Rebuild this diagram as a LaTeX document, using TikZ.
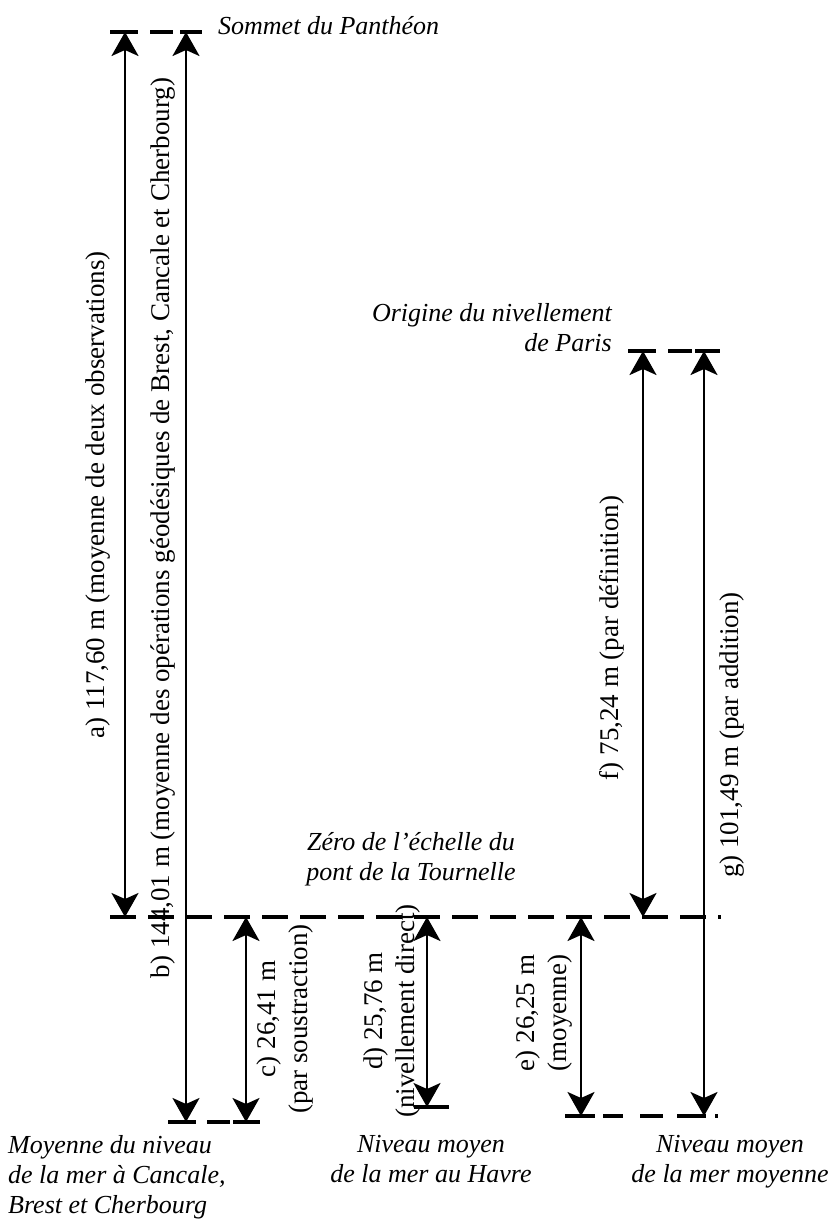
\documentclass[tikz,border=0pt]{standalone}
\usepackage{fontspec}
\setmainfont{Liberation Serif}
\usetikzlibrary{arrows.meta}
\begin{document}
\begin{tikzpicture}[x=1pt,y=-1pt,
  tipA/.tip={Stealth[length=24pt,width=27pt,inset=6pt]},
  dim/.style={line width=2.6pt, tipA-tipA},
  lvl/.style={line width=3.5pt},
  lvldash/.style={line width=3.5pt, dash pattern=on 26pt off 12pt},
  lab/.style={font=\fontsize{27}{32}\selectfont, rotate=90, align=center, inner sep=0pt},
  place/.style={font=\fontsize{26}{30}\selectfont\itshape, inner sep=0pt}
]
\useasboundingbox (0,0) rectangle (833,1219);

% level coordinates
\coordinate (aT) at (125,32);   \coordinate (aB) at (125,917);
\coordinate (bT) at (186,32);   \coordinate (bB) at (186,1122);
\coordinate (cT) at (246,917);  \coordinate (cB) at (246,1122);
\coordinate (dT) at (427,917);  \coordinate (dB) at (427,1107);
\coordinate (eT) at (581,917);  \coordinate (eB) at (581,1116);
\coordinate (fT) at (643,351);  \coordinate (fB) at (643,917);
\coordinate (gT) at (704,351);  \coordinate (gB) at (704,1116);

% level lines
% Pantheon
\draw[lvl] (110,32) -- (138,32);
\draw[lvl] (150,32) -- (173,32);
\draw[lvl] (180,32) -- (202,32);
% Origine Paris
\draw[lvl] (628,351) -- (656,351);
\draw[lvl] (668,351) -- (692,351);
\draw[lvl] (695,351) -- (720,351);
% Tournelle
\draw[lvldash] (110,917) -- (721,917);
% Cancale
\draw[lvl] (168,1122) -- (196,1122);
\draw[lvl] (207,1122) -- (230,1122);
\draw[lvl] (233,1122) -- (260,1122);
% Havre
\draw[lvl] (414,1107) -- (449,1107);
% mer moyenne
\draw[lvl] (565,1116) -- (595,1116);
\draw[lvl] (603,1116) -- (623,1116);
\draw[lvl] (640,1116) -- (663,1116);
\draw[lvl] (677,1116) -- (706,1116);
\draw[lvl] (715,1116) -- (718,1116);

% dimension arrows
\draw[dim] (aT) -- (aB);
\draw[dim] (bT) -- (bB);
\draw[dim] (cT) -- (cB);
\draw[dim] (dT) -- (dB);
\draw[dim] (eT) -- (eB);
\draw[dim] (fT) -- (fB);
\draw[dim] (gT) -- (gB);

% dimension labels
\node[lab] (la) at (98,495) {a) 117,60 m (moyenne de deux observations)};
\node[lab] (lb) at (163,528) {b) 144,01 m (moyenne des opérations géodésiques de Brest, Cancale et Cherbourg)};
\node[lab] (lc) at (285,1019) {c) 26,41 m\\(par soustraction)};
\node[lab] (ld) at (392,1011) {d) 25,76 m\\(nivellement direct)};
\node[lab] (le) at (544,1013) {e) 26,25 m\\(moyenne)};
\node[lab] (lf) at (612,638) {f) 75,24 m (par définition)};
\node[lab] (lg) at (732,735) {g) 101,49 m (par addition)};

% place labels
\node[place, anchor=base west] (sommet) at (218,34) {Sommet du Panthéon};
\node[place, anchor=south east, align=right] (origine) at (612,352) {Origine du nivellement\\de Paris};
\node[place, anchor=south, align=center] (zero) at (411,886) {Zéro de l'échelle du\\pont de la Tournelle};
\node[place, anchor=north west, align=left] (cancale) at (8,1135) {Moyenne du niveau\\de la mer à Cancale,\\Brest et Cherbourg};
\node[place, anchor=north, align=center] (havre) at (431,1135) {Niveau moyen\\de la mer au Havre};
\node[place, anchor=north, align=center] (moyenne) at (730,1135) {Niveau moyen\\de la mer moyenne};
\end{tikzpicture}
\end{document}
